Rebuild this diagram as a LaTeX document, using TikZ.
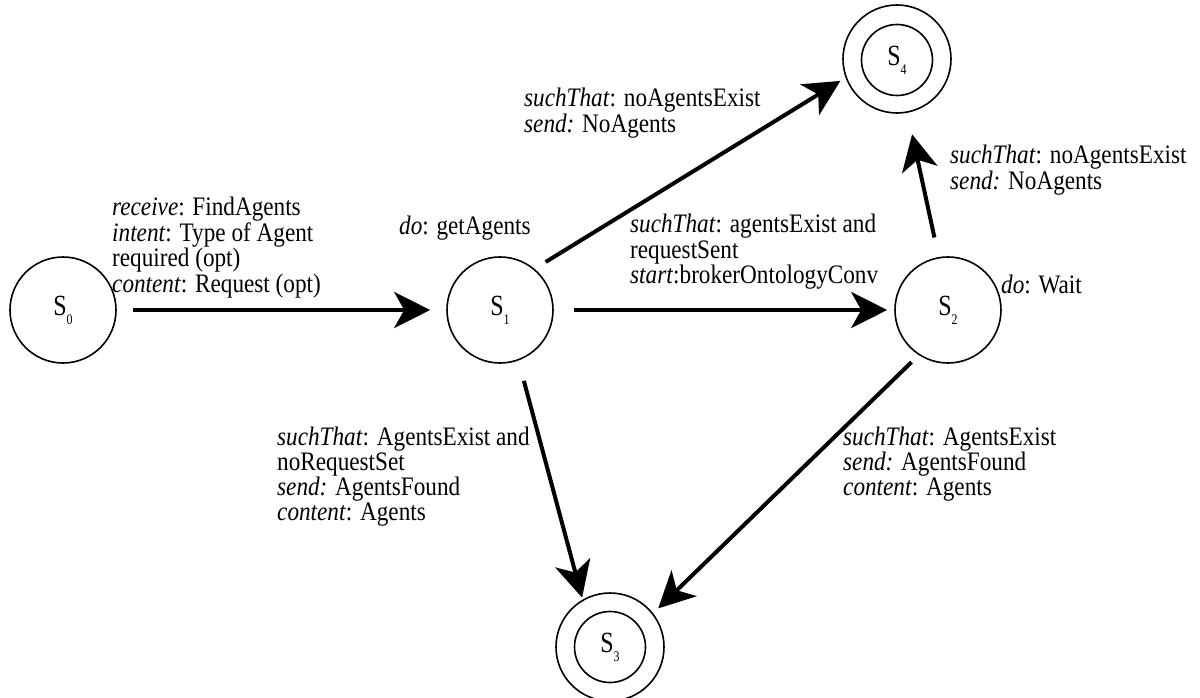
\documentclass[tikz,border=0pt]{standalone}
\usepackage{fontspec}
\setmainfont{Liberation Serif}
\usetikzlibrary{arrows.meta}
% a left-aligned block of lines whose baseline is that of its first line,
% set in a slightly tall face
\newcommand{\txtblock}[1]{\scalebox{1}[1.15]{\begin{tabular}[t]{@{}l@{}}#1\end{tabular}}}
\newcommand{\txtline}[1]{\scalebox{1}[1.15]{#1}}
% state name with a small lowered index
\newcommand{\stname}[1]{\scalebox{1}[1.22]{S\raisebox{-0.3em}{\fontsize{12}{12}\selectfont #1}}}

\begin{document}
\begin{tikzpicture}[x=1pt,y=-1pt,
  state/.style={circle, draw, line width=1.6pt, minimum size=106pt, inner sep=0pt,
                font=\fontsize{24}{24}\selectfont},
  ring/.style={circle, draw, line width=1.6pt, minimum size=108pt, inner sep=0pt},
  core/.style={circle, draw, line width=1.6pt, minimum size=71pt, inner sep=0pt,
                font=\fontsize{24}{24}\selectfont},
  trans/.style={line width=4pt, -{Stealth[length=36pt,width=36pt,inset=10pt]}},
  lbl/.style={anchor=base west, inner sep=0pt, font=\fontsize{23.2}{21.3}\selectfont}]
\useasboundingbox (0,0) rectangle (1200,698);

% states
\node[state] (s0) at (63,310) {\stname{0}};
\node[state] (s1) at (500,310) {\stname{1}};
\node[state] (s2) at (948,310) {\stname{2}};
\node[ring] (s3) at (610,647) {};
\node[core] (s3in) at (610,647) {\stname{3}};
\node[ring] (s4) at (897,59) {};
\node[core] (s4in) at (897,60) {\stname{4}};

% transitions
\draw[trans, shorten <=16pt, shorten >=16pt] (s0.east) -- (s1.west);
\draw[trans, shorten <=20pt, shorten >=7pt] (s1.east) -- (s2.west);
\draw[trans, shorten <=13pt, shorten >=6pt] (s1.50) -- (s4.200);
\draw[trans, shorten <=20pt, shorten >=22pt] (s2.100) -- (s4.281);
\draw[trans, shorten <=21pt, shorten >=2pt] (s1.-70) -- (s3.120);
\draw[trans, shorten <=10pt, shorten >=7pt] (s2.-123) -- (s3.38);

% labels
\node[lbl] (l01) at (112,215) {\txtblock{\textit{receive}: FindAgents\\
  \textit{intent}: Type of Agent\\ required (opt)\\ \textit{content}: Request (opt)}};
\node[lbl] (do1) at (399,234) {\txtline{\textit{do}: getAgents}};
\node[lbl] (l14) at (524,107) {\txtblock{\textit{suchThat}: noAgentsExist\\ \textit{send:} NoAgents}};
\node[lbl] (l12) at (630,233) {\txtblock{\textit{suchThat}: agentsExist and\\ requestSent\\ \textit{start}:brokerOntologyConv}};
\node[lbl] (do2) at (1001,293) {\txtline{\textit{do}: Wait}};
\node[lbl] (l24) at (950,164) {\txtblock{\textit{suchThat}: noAgentsExist\\ \textit{send:} NoAgents}};
\node[lbl] (l13) at (277,445) {\txtblock{\textit{suchThat}: AgentsExist and\\ noRequestSet\\
  \textit{send:} AgentsFound\\ \textit{content}: Agents}};
\node[lbl] (l23) at (843,445) {\txtblock{\textit{suchThat}: AgentsExist\\ \textit{send:} AgentsFound\\
  \textit{content}: Agents}};
\end{tikzpicture}
\end{document}
